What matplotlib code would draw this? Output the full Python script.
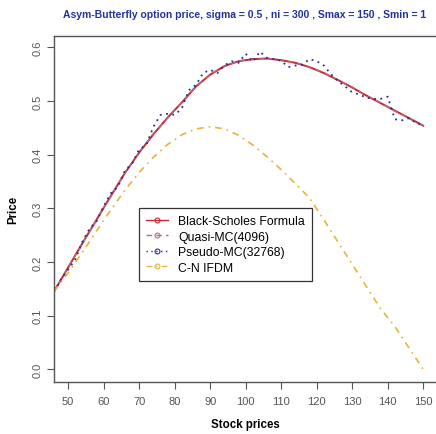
import matplotlib

matplotlib.use("Agg")
import matplotlib.pyplot as plt
from matplotlib.lines import Line2D

plt.rcParams["font.family"] = ["Liberation Sans", "DejaVu Sans"]

TITLE = "Asym-Butterfly option price, sigma = 0.5 , ni = 300 , Smax = 150 , Smin = 1"

# coarse grid used by the smooth curves
S_COARSE = [46, 50, 54, 58, 62, 66, 70, 74, 78, 82, 86, 90, 94, 98, 102,
            106, 110, 114, 118, 122, 126, 130, 134, 138, 142, 146, 150]
BLACK_SCHOLES = [0.145, 0.190, 0.235, 0.279, 0.323, 0.366, 0.404, 0.438, 0.469,
                 0.497, 0.527, 0.549, 0.565, 0.574, 0.578, 0.579, 0.576, 0.571,
                 0.563, 0.552, 0.539, 0.525, 0.510, 0.496, 0.482, 0.468, 0.454]
QUASI_MC = [0.145, 0.191, 0.234, 0.280, 0.322, 0.367, 0.403, 0.439, 0.468,
            0.498, 0.526, 0.550, 0.564, 0.575, 0.577, 0.580, 0.575, 0.572,
            0.562, 0.553, 0.538, 0.526, 0.509, 0.497, 0.481, 0.469, 0.454]
CN_IFDM = [0.145, 0.180, 0.218, 0.258, 0.297, 0.334, 0.367, 0.395, 0.419,
           0.437, 0.448, 0.452, 0.448, 0.436, 0.418, 0.396, 0.372, 0.346,
           0.319, 0.279, 0.237, 0.196, 0.154, 0.113, 0.080, 0.040, 0.000]

# finer grid for the noisy pseudo Monte Carlo estimate
S_FINE = list(range(46, 151, 2))
PSEUDO_MC = [0.145, 0.168, 0.186, 0.205, 0.238, 0.262, 0.276, 0.304, 0.328,
             0.340, 0.371, 0.383, 0.410, 0.418, 0.452, 0.474, 0.476, 0.474,
             0.486, 0.520, 0.530, 0.552, 0.558, 0.552, 0.566, 0.574, 0.571,
             0.588, 0.573, 0.592, 0.580, 0.578, 0.575, 0.563, 0.566, 0.568,
             0.578, 0.574, 0.566, 0.550, 0.537, 0.527, 0.516, 0.512, 0.506,
             0.504, 0.504, 0.508, 0.466, 0.464, 0.468, 0.459, 0.454]

LABELS = ["Black-Scholes Formula", "Quasi-MC(4096)", "Pseudo-MC(32768)", "C-N IFDM"]
COLORS = ["#c8262c", "#b07078", "#2a2a9c", "#e6b43a"]
STYLES = ["-", (0, (4, 3)), (0, (1, 2.5)), (0, (4, 3, 1, 3))]

fig = plt.figure(figsize=(4.36, 4.35), dpi=100)
ax = fig.add_axes([54 / 436, 52 / 435, 382 / 436, 346 / 435])

ax.plot(S_COARSE, BLACK_SCHOLES, color=COLORS[0], ls=STYLES[0], lw=1.4)
ax.plot(S_COARSE, QUASI_MC, color=COLORS[1], ls=STYLES[1], lw=1.0)
ax.plot(S_FINE, PSEUDO_MC, color=COLORS[2], ls=STYLES[2], lw=1.3)
ax.plot(S_COARSE, CN_IFDM, color=COLORS[3], ls=STYLES[3], lw=1.2)

ax.set_xlim(46, 153.6)
ax.set_ylim(-0.0235, 0.621)
ax.set_xticks(range(50, 151, 10))
ax.set_yticks([0.0, 0.1, 0.2, 0.3, 0.4, 0.5, 0.6])
ax.set_yticklabels(["0.0", "0.1", "0.2", "0.3", "0.4", "0.5", "0.6"],
                   rotation=90, va="center")
ax.tick_params(colors="#555555", labelsize=8, length=5, width=0.8)
ax.tick_params(axis="x", labelcolor="#555555", pad=5)
ax.tick_params(axis="y", labelcolor="#555555", pad=3)
for s in ("left", "bottom", "top"):
    ax.spines[s].set_color("#555555")
    ax.spines[s].set_linewidth(1.0)
ax.spines["right"].set_visible(False)

ax.set_xlabel("Stock prices", fontsize=8.3, fontweight="bold", labelpad=9)
ax.set_ylabel("Price", fontsize=8.3, fontweight="bold", labelpad=10)
fig.text(0.56, 1 - 15 / 435, TITLE, ha="center", va="center", fontsize=7.5,
         fontweight="bold", color="#2233a0")

handles = [
    Line2D([], [], color=c, ls=st, lw=1.0, marker="o", markersize=3.5,
           markerfacecolor="none", markeredgewidth=0.8)
    for c, st in zip(COLORS, STYLES)
]
leg = ax.legend(handles, LABELS, loc="upper left",
                bbox_to_anchor=((139 - 54) / 382, (383 - 209) / 346),
                fontsize=8.8, frameon=True, fancybox=False, framealpha=1,
                edgecolor="#333333", handlelength=1.8, handletextpad=0.8,
                borderpad=0.6, labelspacing=0.28, borderaxespad=0)
leg.get_frame().set_linewidth(0.9)

fig.savefig("out.png", dpi=100)
